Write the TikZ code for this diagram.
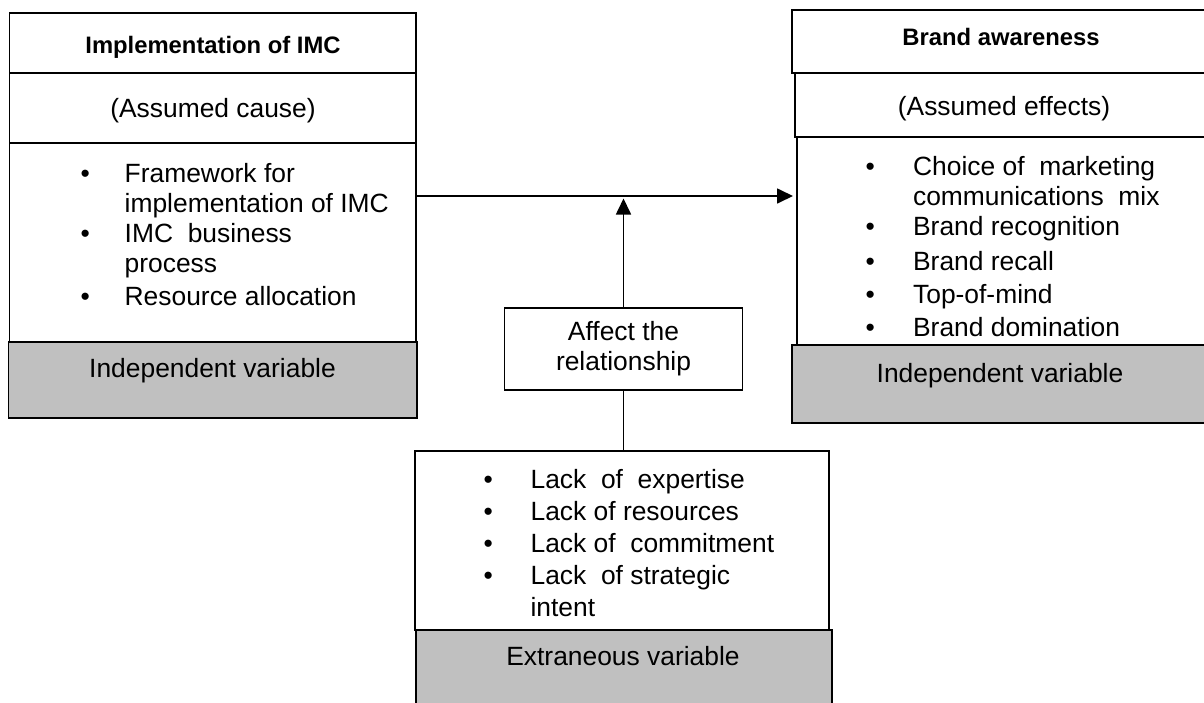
\documentclass[tikz,border=0pt]{standalone}
\usepackage{fontspec}
\setmainfont{Liberation Sans}
\usetikzlibrary{arrows.meta,positioning}
\definecolor{varfill}{HTML}{C0C0C0}
\newcommand{\txtfont}{\fontsize{26.4}{30}\selectfont}
\newcommand{\hdfont}{\fontsize{23.8}{28}\selectfont\bfseries}

\begin{document}
\begin{tikzpicture}[x=1pt,y=-1pt,>={Triangle[length=16pt,width=15pt]},
  box/.style={draw,fill=white,line width=1.7pt,rectangle,inner sep=0pt,outer sep=0pt,anchor=north west},
  varbox/.style={box,fill=varfill},
  txt/.style={anchor=base,inner sep=0pt,font=\txtfont},
  hd/.style={anchor=base,inner sep=0pt,font=\hdfont},
  blist/.style={anchor=base west,inner sep=0pt,font=\txtfont},
  link/.style={line width=1.7pt}]
\useasboundingbox (0,0) rectangle (1204,702);
\clip (0,0) rectangle (1204,702);
%%
  % Node: Implementation of IMC
  \node[box,minimum width=406.5pt,minimum height=60pt] (imctitle) at (9.5,13) {};
  \node[box,minimum width=406.5pt,minimum height=70pt] (imccause) at (9.5,73) {};
  \node[box,minimum width=406.5pt,minimum height=199pt] (imclist) at (9.5,143) {};
  \node[varbox,minimum width=408.5pt,minimum height=76pt] (imcvar) at (8.5,342) {};
  \node[hd] (imchd) at (213,53) {Implementation of IMC};
  \node[txt] (imccs) at (213,117) {(Assumed cause)};
  \node[blist] (imcitems) at (80.5,182) {\begin{tabular}[t]{@{}p{44pt}@{}l@{}}
    \textbullet & Framework for\\
                & implementation of IMC\\
    \textbullet & IMC\ \ business\\
                & process\\[3pt]
    \textbullet & Resource allocation
  \end{tabular}};
  \node[txt] (imcvt) at (212.5,377) {Independent variable};
  % Node: Brand awareness
  \node[box,minimum width=430pt,minimum height=63pt] (bawtitle) at (792,10) {};
  \node[box,minimum width=430pt,minimum height=64pt] (bawcause) at (795,73) {};
  \node[box,minimum width=430pt,minimum height=208pt] (bawlist) at (797,137) {};
  \node[varbox,minimum width=430pt,minimum height=78pt] (bawvar) at (792,345) {};
  \node[hd] (bawhd) at (1001,45) {Brand awareness};
  \node[txt] (bawcs) at (1004,115) {(Assumed effects)};
  \node[blist] (bawitems) at (865.4,175) {\begin{tabular}[t]{@{}p{47.5pt}@{}l@{}}
    \textbullet & Choice of\ \ marketing\\
                & communications\ \ mix\\
    \textbullet & Brand recognition\\[5pt]
    \textbullet & Brand recall\\[3pt]
    \textbullet & Top-of-mind\\[3pt]
    \textbullet & Brand domination
  \end{tabular}};
  \node[txt] (bawvt) at (1000,382) {Independent variable};
  % Node: Extraneous variable
  \node[box,minimum width=414pt,minimum height=179pt] (lacklist) at (415,451) {};
  \node[varbox,minimum width=416pt,minimum height=90pt] (extvar) at (416,630) {};
  \node[blist] (lackitems) at (483.4,488) {\begin{tabular}[t]{@{}p{47pt}@{}l@{}}
    \textbullet & Lack\ \ of\ \ expertise\\[2pt]
    \textbullet & Lack of resources\\[2pt]
    \textbullet & Lack of\ \ commitment\\[2pt]
    \textbullet & Lack\ \ of strategic\\[2pt]
                & intent
  \end{tabular}};
  \node[txt] (extvt) at (623,665) {Extraneous variable};
  % Node: Affect
  \node[box,anchor=center,minimum width=238pt,minimum height=82pt,align=center,font=\txtfont] (affect) at (623.5,349) {Affect the\\relationship};
  % Edge: cause -> effects
  \coordinate (mid) at (623,196);
  \draw[link,->,shorten >=4pt] (imclist.east |- mid) -- (bawlist.west |- mid);
  % Edge: affect -> relationship
  \draw[link,->,shorten >=2.5pt] (affect.north) -- (affect.north |- mid);
  % Edge: lack -> affect
  \draw[link] (affect.south) -- (affect.south |- lacklist.north);
%
\end{tikzpicture}
\end{document}
